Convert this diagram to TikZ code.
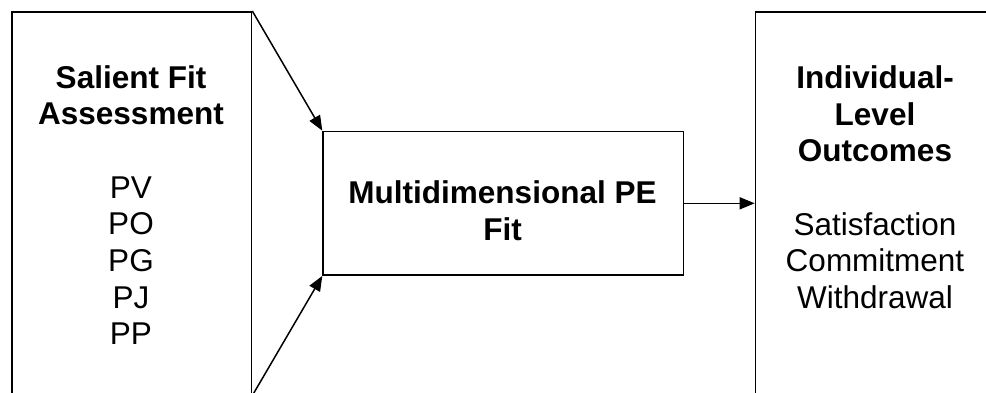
\documentclass[tikz,border=0pt]{standalone}
\usepackage{fontspec}
\setmainfont{Liberation Sans}
\usetikzlibrary{arrows.meta}
\begin{document}
\begin{tikzpicture}[x=1pt,y=-1pt,
  box/.style={draw, line width=1.6pt, rectangle, inner sep=0pt, anchor=north west},
  lbl/.style={anchor=base, inner sep=0pt, font=\fontsize{31.5}{36.7}\selectfont},
  conn/.style={line width=1.5pt, -{Triangle[length=15pt,width=12pt]}}]
\useasboundingbox (0,0) rectangle (986,392);
\clip (0,0) rectangle (986,392);
\fill[white] (0,0) rectangle (986,392);
\node[box, minimum width=239.7pt, minimum height=383pt] (L) at (11,11) {};
\node[box, minimum width=360.4pt, minimum height=143.6pt] (M) at (322.3,130.7) {};
\node[box, minimum width=240pt, minimum height=383pt] (R) at (754.7,11) {};
\node[lbl] (Ltext) at (131,88) {\setlength\tabcolsep{0pt}\begin{tabular}[t]{c}
\textbf{Salient Fit}\\ \textbf{Assessment}\\ \\ PV\\ PO\\ PG\\ PJ\\ PP\end{tabular}};
\node[lbl] (Mtext) at (502.5,203.3) {\setlength\tabcolsep{0pt}\begin{tabular}[t]{c}
\textbf{Multidimensional PE}\\ \textbf{Fit}\end{tabular}};
\node[lbl] (Rtext) at (875,88.3) {\setlength\tabcolsep{0pt}\begin{tabular}[t]{c}
\textbf{Individual-}\\ \textbf{Level}\\ \textbf{Outcomes}\\ \\ Satisfaction\\ Commitment\\ Withdrawal\end{tabular}};
\draw[conn] (L.north east) -- (M.north west);
\draw[conn] (L.south east) -- (M.south west);
\draw[conn] (M.east) -- (R.west);
\end{tikzpicture}
\end{document}
